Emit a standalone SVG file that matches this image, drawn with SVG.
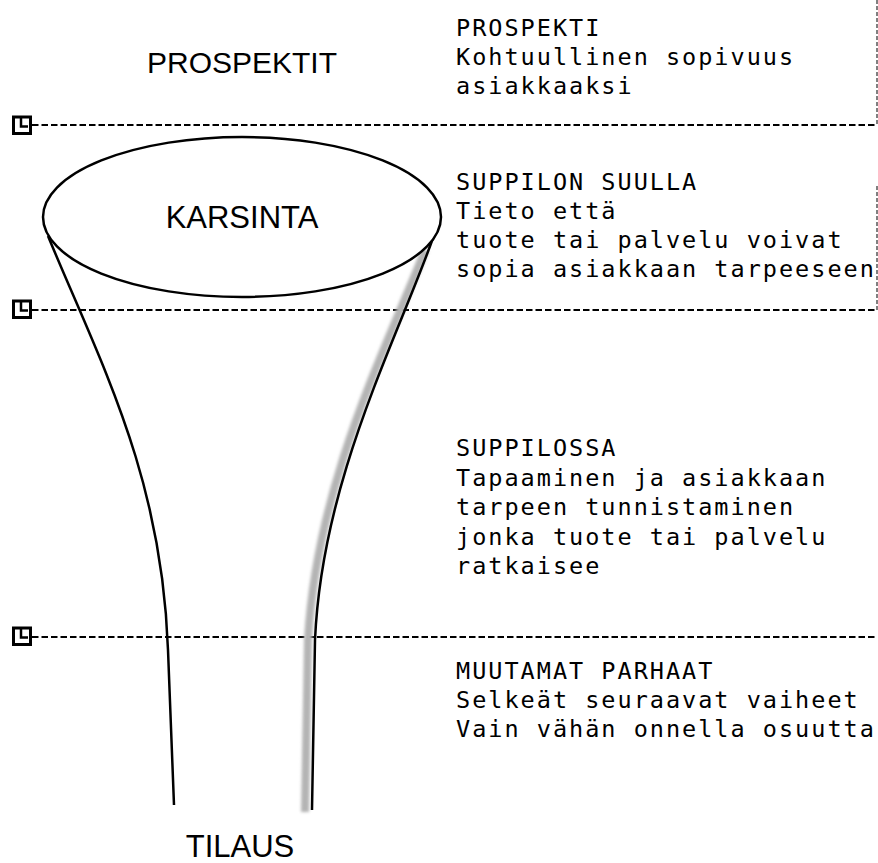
<svg xmlns="http://www.w3.org/2000/svg" width="878" height="863" viewBox="0 0 878 863">
<defs>
<style>
.mono{font-family:"DejaVu Sans Mono","Liberation Mono",monospace;font-size:23.5px;letter-spacing:2px;fill:#000}
.lbl{font-family:"Liberation Sans",Arial,sans-serif;font-size:30px;fill:#000;text-anchor:middle}
.hdash{stroke:#000;stroke-width:2.2;stroke-dasharray:6.5 3;fill:none}
.vdash{stroke:#000;stroke-width:1;stroke-dasharray:4 2;fill:none}
.icon{stroke:#000;stroke-width:3;fill:#fff}
.funnel{stroke:#000;stroke-width:2.5;fill:none}
</style>
<filter id="blur" x="-20%" y="-5%" width="140%" height="110%"><feGaussianBlur stdDeviation="1.8"/></filter>
<g id="marker"><rect x="-8.5" y="-8" width="17" height="16.5" class="icon"/><path d="M-1,-8 V1.5 H6" stroke="#000" stroke-width="2.5" fill="none"/></g>
</defs>
<rect width="878" height="863" fill="#fff"/>
<g id="connectors">
<line x1="32" y1="125" x2="877" y2="125" class="hdash"/>
<line x1="32" y1="310" x2="877" y2="310" class="hdash"/>
<line x1="32" y1="637" x2="877" y2="637" class="hdash"/>
<line x1="877" y1="0" x2="877" y2="125" class="vdash"/>
<line x1="877" y1="186" x2="877" y2="310" class="vdash"/>
<use href="#marker" x="22" y="125"/>
<use href="#marker" x="22" y="309"/>
<use href="#marker" x="22" y="636"/>
</g>
<g id="funnel">
<path d="M425,250 C388,345 317,480 308,640 L305,812" stroke="#b4b4b4" stroke-width="8" fill="none" filter="url(#blur)"/>
<path d="M48,236 C100,362 162,475 168,650 L174,805" class="funnel"/>
<path d="M433,238 C396,342 322,480 315,640 L312,810" class="funnel"/>
</g>
<g id="karsinta">
<ellipse cx="242" cy="217" rx="199" ry="80" fill="#fff" stroke="#000" stroke-width="2.5"/>
<text x="242" y="228" class="lbl" style="font-size:31px">KARSINTA</text>
</g>
<g id="prospektit"><text x="242" y="73" class="lbl">PROSPEKTIT</text></g>
<g id="tilaus"><text x="240" y="857" class="lbl" style="font-size:31px">TILAUS</text></g>
<g id="stage1">
<text class="mono" x="456" y="36">PROSPEKTI</text>
<text class="mono" x="456" y="65">Kohtuullinen sopivuus</text>
<text class="mono" x="456" y="94">asiakkaaksi</text>
</g>
<g id="stage2">
<text class="mono" x="456" y="190">SUPPILON SUULLA</text>
<text class="mono" x="456" y="219">Tieto että</text>
<text class="mono" x="456" y="248">tuote tai palvelu voivat</text>
<text class="mono" x="456" y="277">sopia asiakkaan tarpeeseen</text>
</g>
<g id="stage3">
<text class="mono" x="456" y="456">SUPPILOSSA</text>
<text class="mono" x="456" y="485.5">Tapaaminen ja asiakkaan</text>
<text class="mono" x="456" y="515">tarpeen tunnistaminen</text>
<text class="mono" x="456" y="544.5">jonka tuote tai palvelu</text>
<text class="mono" x="456" y="574">ratkaisee</text>
</g>
<g id="stage4">
<text class="mono" x="456" y="679">MUUTAMAT PARHAAT</text>
<text class="mono" x="456" y="708">Selkeät seuraavat vaiheet</text>
<text class="mono" x="456" y="737">Vain vähän onnella osuutta</text>
</g>
</svg>
